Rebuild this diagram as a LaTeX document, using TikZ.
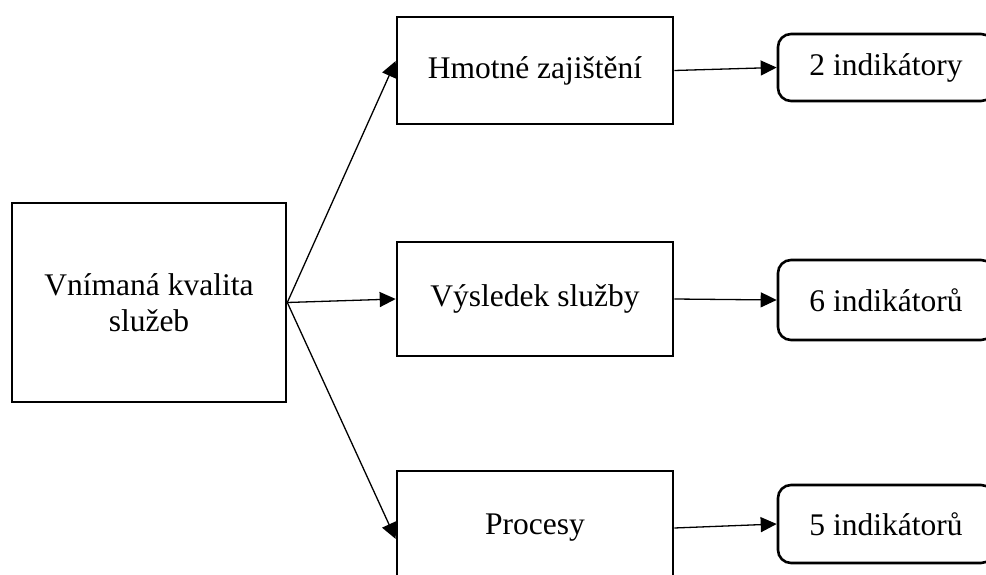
\documentclass[tikz,border=0pt]{standalone}
\usepackage{fontspec}
\setmainfont{Liberation Serif}
\usetikzlibrary{arrows.meta}
\begin{document}
\begin{tikzpicture}[x=1pt,y=-1pt,
  every node/.style={font=\fontsize{31.5}{36}\selectfont, align=center, inner sep=0pt},
  mainbox/.style={draw, line width=2.6pt, minimum width=#1},
  mainbox/.default=276pt,
  indbox/.style={draw, line width=2.6pt, rounded corners=13pt, minimum width=216pt},
  link/.style={line width=1.3pt, -{Triangle[length=16pt,width=15pt]}}]
  \useasboundingbox (0,0) rectangle (986,575);
  \clip (0,0) rectangle (986,575);

  % root box
  \node[mainbox=274pt, minimum height=199pt] (L) at (149,302.5) {Vnímaná kvalita\\služeb};

  % dimensions
  \node[mainbox, minimum height=107pt] (A) at (535,70.5) {Hmotné zajištění};
  \node[mainbox, minimum height=114pt] (B) at (535,299) {Výsledek služby};
  \node[mainbox, minimum height=114pt] (C) at (535,528) {Procesy};

  % indicator counts
  \node[indbox, minimum height=67pt] (R1) at (886,67.5) {2 indikátory};
  \node[indbox, minimum height=80pt] (R2) at (886,300) {6 indikátorů};
  \node[indbox, minimum height=78pt] (R3) at (886,524) {5 indikátorů};

  % connectors
  \draw[link] (L.east) -- ([yshift=9.5pt]A.west);
  \draw[link] (L.east) -- (B.west);
  \draw[link] (L.east) -- ([yshift=-11pt]C.west);
  \draw[link] (A.east) -- (R1.west);
  \draw[link] (B.east) -- (R2.west);
  \draw[link] (C.east) -- (R3.west);
\end{tikzpicture}
\end{document}
